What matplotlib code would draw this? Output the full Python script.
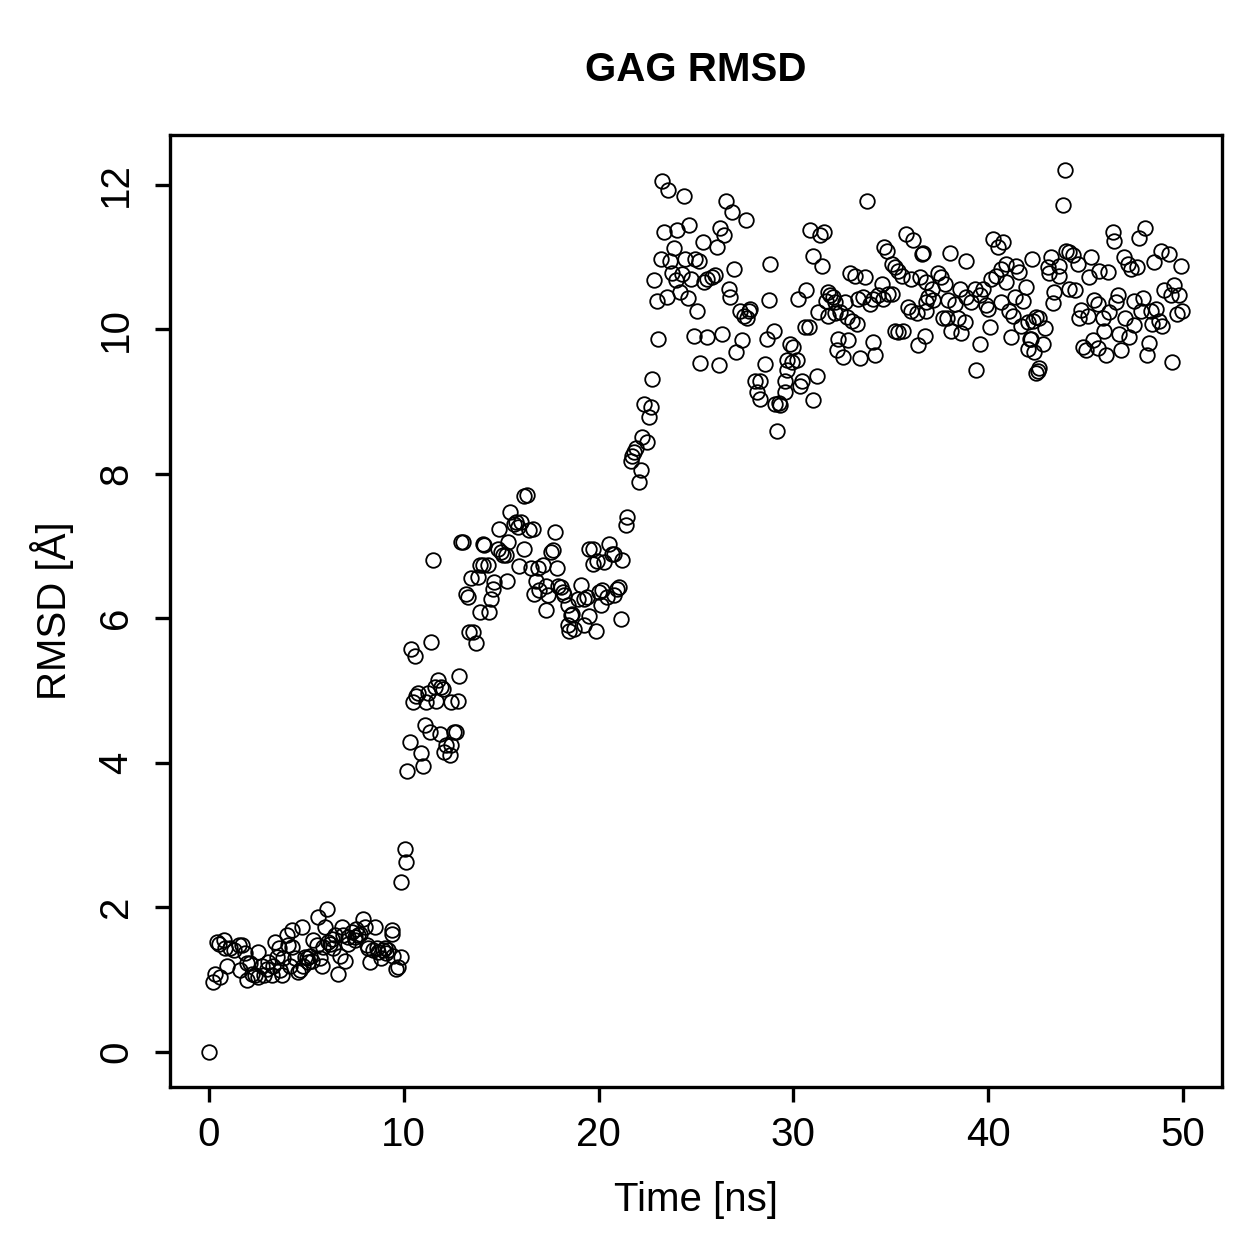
import matplotlib
matplotlib.use("Agg")
import matplotlib.pyplot as plt

plt.rcParams['font.family'] = ['Liberation Sans', 'DejaVu Sans']

# --- values (time in ns, RMSD in Angstrom) ---

# 0 - 10 ns, low plateau
t_low = [0.0, 0.19, 0.29, 0.58, 0.41, 0.49, 0.75, 0.84, 0.92, 1.09, 1.26, 1.52, 1.69, 1.60,
         1.86, 1.94, 2.12, 2.20, 2.37, 2.54, 2.54, 2.71, 2.80, 2.97, 3.22, 3.31, 3.39, 3.57,
         3.74, 3.82, 3.99, 4.08, 4.16, 4.25, 4.42, 4.59, 4.76, 4.85, 4.93, 5.10, 5.27, 5.36,
         5.53, 5.61, 5.70, 5.78, 5.87, 6.04, 5.95, 6.13, 6.30, 6.46, 6.64, 6.72, 6.81, 6.89,
         6.98, 7.15, 7.32, 7.49, 7.57, 7.74, 7.92, 8.00, 8.17, 8.26, 8.43, 8.51, 8.68, 8.85,
         9.02, 9.20, 9.37, 9.37, 9.45, 9.62, 9.71, 9.88,
         1.94, 3.05, 3.48, 3.65, 4.25, 4.67, 5.02, 5.18, 6.21, 6.38, 7.15, 7.49, 7.66, 8.09,
         8.60, 8.94, 9.11]
r_low = [0.0, 0.96, 1.08, 1.03, 1.52, 1.49, 1.54, 1.43, 1.19, 1.43, 1.40, 1.47, 1.47, 1.13,
         1.36, 0.99, 1.22, 1.08, 1.06, 1.38, 1.03, 1.19, 1.06, 1.15, 1.06, 1.19, 1.52, 1.43,
         1.06, 1.29, 1.61, 1.47, 1.19, 1.68, 1.29, 1.10, 1.73, 1.19, 1.31, 1.24, 1.26, 1.54,
         1.47, 1.86, 1.29, 1.19, 1.45, 1.98, 1.73, 1.52, 1.56, 1.61, 1.08, 1.33, 1.73, 1.61,
         1.26, 1.49, 1.66, 1.59, 1.70, 1.63, 1.84, 1.73, 1.43, 1.24, 1.40, 1.73, 1.38, 1.29,
         1.43, 1.40, 1.63, 1.68, 1.33, 1.15, 1.17, 1.31,
         1.22, 1.24, 1.31, 1.13, 1.45, 1.13, 1.29, 1.33, 1.49, 1.43, 1.59, 1.54, 1.61, 1.47,
         1.43, 1.40, 1.36]

# 10 - 14 ns, first jump
t_jump = [9.88, 10.05, 10.13, 10.18, 10.30, 10.90, 10.99, 11.07, 11.33, 11.84, 12.09, 12.18,
          12.35, 12.44, 12.60, 12.69, 10.48, 10.73, 10.64, 11.16, 11.58, 11.75, 12.01, 11.67,
          12.44, 12.78, 12.86, 10.39, 10.56, 11.38, 13.37, 13.55, 13.72, 11.50, 11.92, 11.24]
r_jump = [2.35, 2.81, 2.63, 3.88, 4.28, 4.14, 3.96, 4.52, 4.42, 4.40, 4.15, 4.24,
          4.10, 4.24, 4.42, 4.42, 4.84, 4.96, 4.93, 4.84, 5.05, 5.14, 5.02, 4.86,
          4.84, 4.86, 5.20, 5.58, 5.48, 5.67, 5.81, 5.81, 5.66, 6.81, 5.05, 4.96]

# 13 - 22 ns, middle plateau
t_mid = [13.03, 12.95, 13.20, 13.29, 13.46, 13.80, 13.89, 14.06, 14.31, 14.06, 14.14, 13.89,
         14.40, 14.48, 14.57, 14.65, 14.83, 14.91, 15.00, 15.08, 15.25, 15.30, 15.37, 15.47,
         15.68, 15.76, 15.85, 16.02, 15.93, 16.19, 16.19, 16.33, 16.44, 16.62, 16.53, 16.87,
         17.13, 16.79, 16.70, 16.96, 17.30, 17.39, 17.30, 17.55, 17.64, 17.76, 17.86, 17.90,
         18.07, 18.15, 18.24, 18.41, 18.58, 18.66, 18.41, 18.49, 18.75, 18.92, 19.09, 19.26,
         19.43, 19.51, 19.26, 19.86, 19.51, 19.69, 19.69, 19.94, 20.28, 20.54, 20.71, 20.79,
         21.22, 20.03, 20.20, 20.45, 20.79, 20.97, 21.05, 21.14, 20.11, 21.39, 21.48, 22.07]
r_mid = [7.06, 7.05, 6.34, 6.29, 6.56, 6.57, 6.73, 6.74, 6.74, 7.03, 7.01, 6.09,
         6.09, 6.27, 6.41, 6.50, 6.96, 7.24, 6.92, 6.87, 6.87, 6.52, 7.05, 7.47,
         7.31, 7.33, 7.26, 7.33, 6.72, 6.96, 7.69, 7.70, 7.22, 7.23, 6.69, 6.69,
         6.73, 6.51, 6.34, 6.39, 6.45, 6.32, 6.12, 6.91, 6.94, 7.19, 6.69, 6.45,
         6.43, 6.36, 6.32, 6.18, 6.04, 6.06, 5.90, 5.83, 5.85, 6.27, 6.46, 6.27,
         6.29, 6.03, 5.90, 5.83, 6.96, 6.96, 6.75, 6.79, 6.78, 7.03, 6.89, 6.89,
         6.81, 6.36, 6.39, 6.29, 6.32, 6.41, 6.43, 5.99, 6.18, 7.29, 7.40, 7.88]

# 21.5 - 30 ns, second jump and start of top plateau
t_rise = [22.16, 21.65, 21.73, 21.82, 21.90, 22.24, 22.50, 22.59, 22.67, 22.33, 22.76, 23.05,
          25.23, 24.89, 25.57, 23.27, 23.58, 24.38, 23.35, 24.04, 24.63, 23.86, 25.37, 23.18,
          23.69, 24.46, 24.97, 25.14, 23.78, 23.95, 24.29, 24.75, 22.84, 25.40, 25.57, 24.17,
          24.58, 23.49, 22.98, 25.06,
          26.56, 26.85, 27.58, 26.25, 26.46, 26.09, 25.83, 26.00, 26.97, 26.68, 26.77, 28.81,
          27.28, 27.45, 27.62, 27.79, 28.73, 26.34, 27.36, 27.07, 28.98, 28.64, 26.17, 28.56,
          28.05, 28.30, 29.58, 29.80, 29.66]
r_rise = [8.05, 8.18, 8.25, 8.30, 8.35, 8.51, 8.44, 8.78, 8.92, 8.97, 9.31, 9.87,
          9.54, 9.91, 9.89, 12.06, 11.93, 11.84, 11.35, 11.38, 11.44, 11.12, 11.21, 10.97,
          10.94, 10.97, 10.98, 10.95, 10.78, 10.68, 10.77, 10.70, 10.68, 10.65, 10.70, 10.52,
          10.43, 10.45, 10.39, 10.25,
          11.77, 11.63, 11.51, 11.40, 11.30, 11.14, 10.72, 10.75, 10.83, 10.56, 10.45, 10.91,
          10.26, 10.19, 10.15, 10.28, 10.41, 9.94, 9.85, 9.68, 9.97, 9.86, 9.51, 9.52,
          9.29, 9.29, 9.29, 9.80, 9.57]

# 27 - 36 ns
t_top1 = [33.76, 30.86, 31.37, 31.58, 31.00, 31.46, 34.66, 34.78, 35.04, 35.21, 35.38, 32.91,
          33.16, 33.67, 34.53, 30.65, 30.26, 31.75, 31.88, 32.05, 31.68, 32.14, 32.65, 31.28,
          31.80, 32.14, 32.39, 32.74, 32.99, 33.25, 33.33, 33.59, 33.93, 34.10, 34.36, 34.61,
          34.87, 35.04, 27.71, 30.60, 30.78, 35.21, 35.38, 32.31, 32.82, 34.10, 32.23, 32.57,
          33.42, 34.19, 30.00, 29.92, 30.17, 29.66, 29.58, 31.20, 30.43, 30.35, 28.13,
          28.30, 29.07, 29.24, 29.32, 31.03, 29.16]
r_top1 = [11.78, 11.38, 11.30, 11.35, 11.01, 10.87, 11.14, 11.09, 10.91, 10.86, 10.81, 10.78,
          10.74, 10.72, 10.63, 10.54, 10.42, 10.51, 10.47, 10.45, 10.39, 10.38, 10.38, 10.24,
          10.19, 10.22, 10.24, 10.17, 10.12, 10.07, 10.42, 10.45, 10.35, 10.42, 10.47, 10.42,
          10.49, 10.49, 10.26, 10.03, 10.03, 9.98, 9.96, 9.86, 9.85, 9.83, 9.71, 9.61,
          9.60, 9.64, 9.75, 9.55, 9.58, 9.43, 9.13, 9.36, 9.29, 9.21, 9.13,
          9.04, 8.96, 8.98, 8.95, 9.02, 8.59]

# 35 - 42.5 ns
t_top2 = [35.77, 36.15, 36.58, 36.66, 38.03, 38.84, 40.24, 40.50, 40.75, 42.26, 35.55, 36.06,
          36.49, 37.43, 37.60, 37.77, 36.83, 37.09, 36.93, 37.19, 36.83, 38.54, 37.93, 38.27,
          38.87, 39.13, 39.30, 39.56, 39.73, 39.90, 39.98, 40.15, 40.41, 40.67, 40.93, 41.44,
          41.57, 40.93, 41.95, 41.35, 41.78, 40.67, 35.90, 36.06, 36.32, 36.83, 37.68, 37.86,
          38.45, 38.79, 38.11, 38.62, 40.07, 41.09, 41.26, 41.69, 42.03, 42.29, 42.46, 41.18,
          42.12, 42.03, 42.37, 42.46, 35.64, 36.75, 36.40, 39.56, 39.35]
r_top2 = [11.32, 11.23, 11.04, 11.06, 11.06, 10.95, 11.25, 11.14, 11.21, 10.98, 10.74, 10.70,
          10.72, 10.78, 10.72, 10.63, 10.65, 10.56, 10.45, 10.40, 10.38, 10.56, 10.40, 10.35,
          10.45, 10.38, 10.56, 10.47, 10.56, 10.33, 10.28, 10.70, 10.74, 10.84, 10.91, 10.88,
          10.79, 10.65, 10.58, 10.45, 10.39, 10.38, 10.31, 10.26, 10.22, 10.26, 10.15, 10.16,
          10.15, 10.10, 9.98, 9.95, 10.03, 10.26, 10.19, 10.05, 10.10, 10.12, 10.17, 9.89,
          9.87, 9.73, 9.69, 9.40, 9.98, 9.91, 9.78, 9.80, 9.43]

# 42 - 50 ns
t_top3 = [43.96, 43.86, 46.38, 46.47, 48.06, 47.75, 43.23, 43.06, 43.14, 43.65, 43.65, 44.00,
          44.17, 44.34, 44.60, 45.28, 45.70, 46.13, 45.15, 46.98, 47.15, 47.32, 47.66, 48.52,
          48.86, 49.28, 49.88, 43.40, 44.17, 44.47, 43.31, 44.76, 44.68, 45.10, 45.44, 45.61,
          45.87, 45.96, 46.21, 46.56, 46.64, 47.04, 47.46, 46.72, 47.24, 46.81, 46.04, 47.49,
          47.92, 47.83, 48.35, 48.60, 48.43, 48.77, 48.94, 49.03, 49.37, 49.54, 49.80, 49.71,
          49.97, 48.26, 48.17, 49.45, 44.85, 45.02, 45.36, 45.61, 42.63, 42.89, 42.20, 42.80,
          42.63, 42.54]
r_top3 = [12.20, 11.72, 11.35, 11.22, 11.40, 11.26, 11.00, 10.86, 10.78, 10.88, 10.74, 11.09,
          11.07, 11.03, 10.91, 11.00, 10.81, 10.79, 10.72, 11.00, 10.91, 10.84, 10.86, 10.93,
          11.09, 11.04, 10.88, 10.52, 10.56, 10.54, 10.37, 10.27, 10.15, 10.19, 10.40, 10.35,
          10.15, 9.98, 10.24, 10.38, 10.47, 10.15, 10.06, 9.94, 9.89, 9.71, 9.65, 10.39,
          10.43, 10.25, 10.26, 10.28, 10.08, 10.12, 10.05, 10.54, 10.47, 10.61, 10.47, 10.21,
          10.25, 9.81, 9.65, 9.55, 9.75, 9.71, 9.85, 9.74, 10.15, 10.02, 9.86, 9.79,
          9.47, 9.42]

time_ns = t_low + t_jump + t_mid + t_rise + t_top1 + t_top2 + t_top3
rmsd = r_low + r_jump + r_mid + r_rise + r_top1 + r_top2 + r_top3

x_ticks = [0, 10, 20, 30, 40, 50]
y_ticks = [0, 2, 4, 6, 8, 10, 12]

# %%

W = 1259
fig = plt.figure(figsize=(W / 100, W / 100), dpi=100)
ax = fig.add_axes([170 / W, 1 - 1087 / W, (1222 - 170) / W, (1087 - 135) / W])

ax.plot(time_ns, rmsd, linestyle='none', marker='o', markersize=10.5,
        markerfacecolor='none', markeredgecolor='black', markeredgewidth=1.3)

ax.set_xlim(-2, 52)
ax.set_ylim(-0.49, 12.69)
ax.set_xticks(x_ticks)
ax.set_yticks(y_ticks)

for s in ax.spines.values():
    s.set_linewidth(2.4)
ax.tick_params(axis='both', length=11, width=2.4, labelsize=29, direction='out')
ax.tick_params(axis='x', pad=10)
ax.tick_params(axis='y', pad=14)
for lab in ax.get_yticklabels():
    lab.set_rotation(90)
    lab.set_va('center')

cx = 696 / W
fig.text(cx, 1 - 70 / W, 'GAG RMSD', ha='center', va='center', fontsize=29, fontweight='bold')
fig.text(cx, 1 - 1200 / W, 'Time [ns]', ha='center', va='center', fontsize=29)
fig.text(52 / W, 1 - 611 / W, 'RMSD [Å]', ha='center', va='center', fontsize=29, rotation=90)

fig.savefig('out.png', dpi=100)
